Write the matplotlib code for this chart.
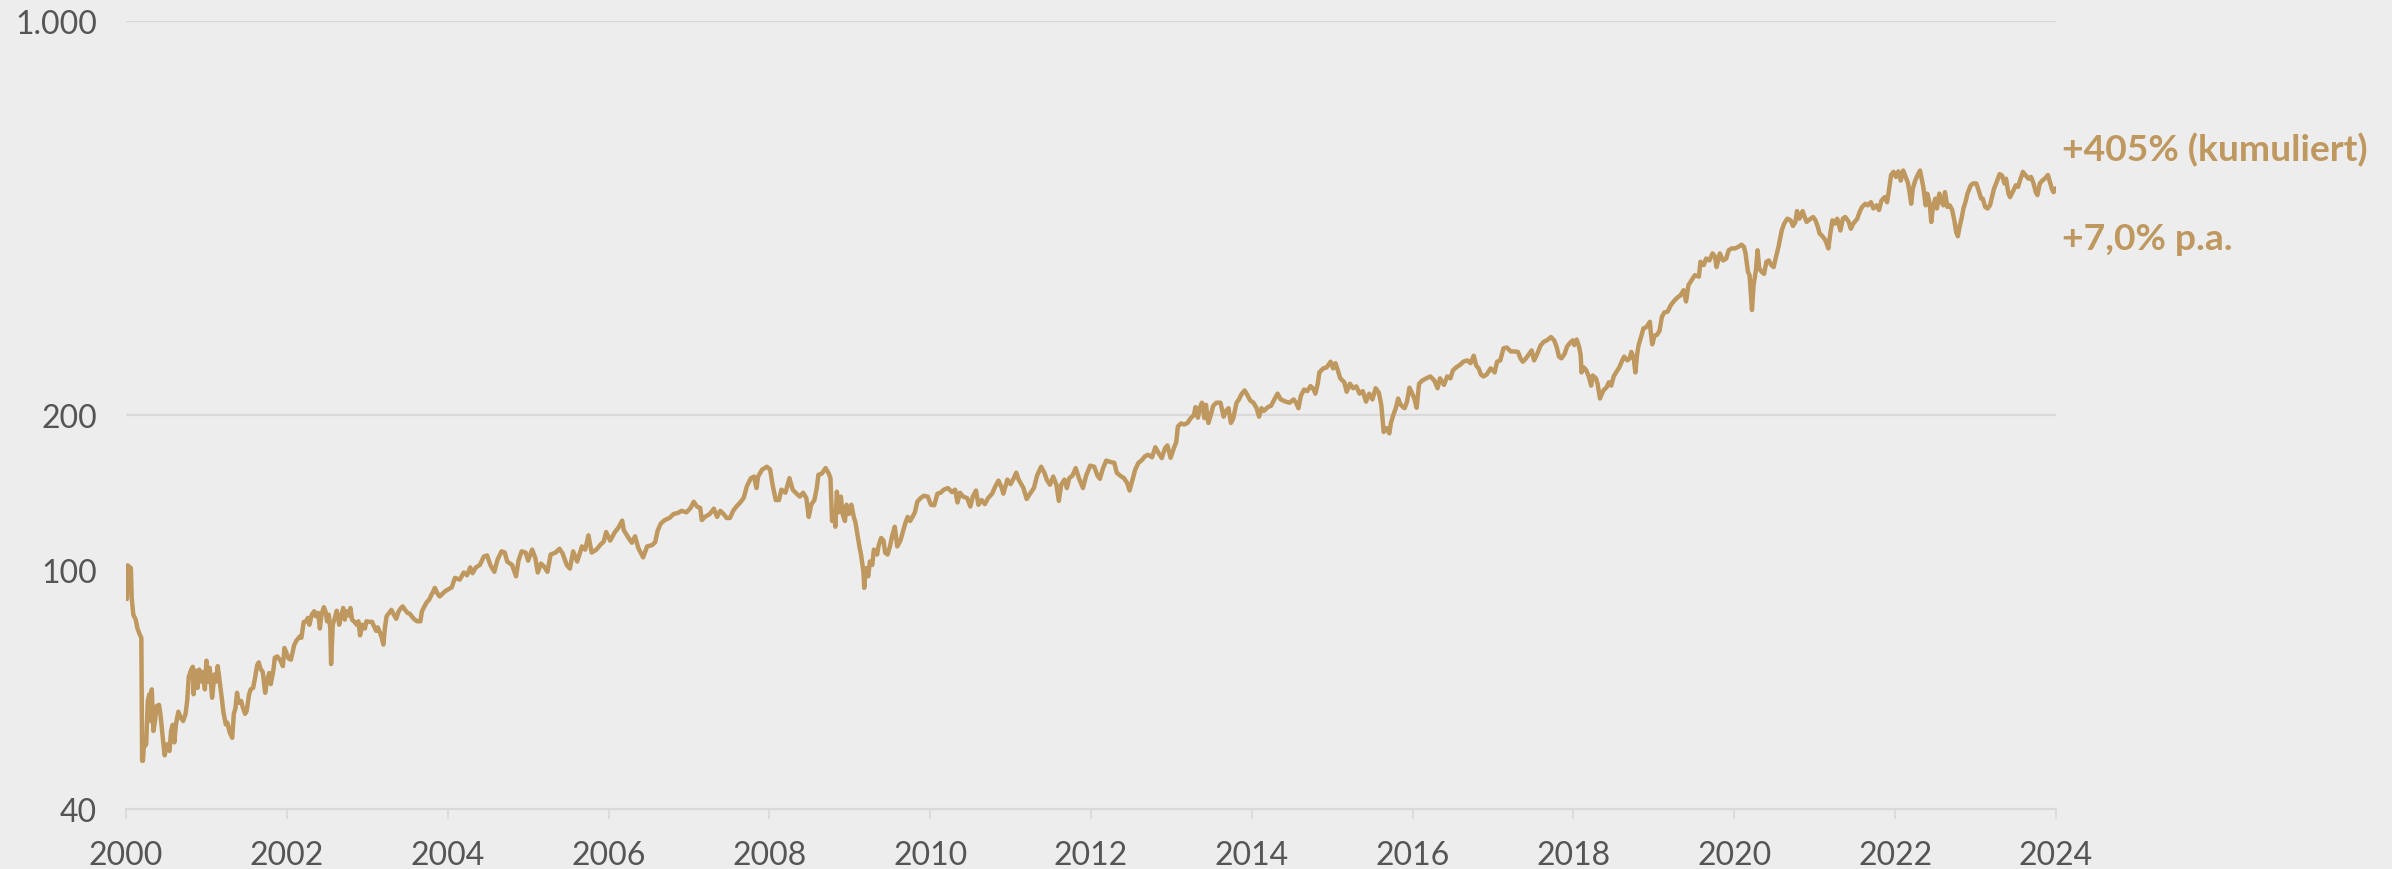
import matplotlib
matplotlib.use("Agg")
import matplotlib.pyplot as plt
import matplotlib.transforms as mtransforms
from matplotlib.ticker import FixedLocator, FixedFormatter, NullLocator

# Index level (start = 100), x in decimal years
years = [
    2000.00, 2000.01, 2000.02, 2000.06, 2000.07, 2000.09, 2000.12, 2000.14, 2000.17, 2000.19,
    2000.20, 2000.21, 2000.22, 2000.25, 2000.27, 2000.29, 2000.31, 2000.32, 2000.34, 2000.36,
    2000.38, 2000.41, 2000.43, 2000.46, 2000.48, 2000.51, 2000.54, 2000.56, 2000.58, 2000.60,
    2000.62, 2000.65, 2000.68, 2000.71, 2000.74, 2000.76, 2000.78, 2000.81, 2000.83, 2000.84,
    2000.86, 2000.89, 2000.91, 2000.94, 2000.96, 2000.98, 2001.00, 2001.02, 2001.04, 2001.07,
    2001.10, 2001.12, 2001.14, 2001.17, 2001.19, 2001.21, 2001.24, 2001.26, 2001.29, 2001.32,
    2001.34, 2001.36, 2001.38, 2001.40, 2001.43, 2001.45, 2001.48, 2001.50, 2001.53, 2001.55,
    2001.58, 2001.60, 2001.63, 2001.65, 2001.67, 2001.70, 2001.73, 2001.75, 2001.78, 2001.80,
    2001.83, 2001.85, 2001.88, 2001.92, 2001.95, 2001.97, 2001.99, 2002.02, 2002.05, 2002.07,
    2002.09, 2002.12, 2002.16, 2002.18, 2002.21, 2002.24, 2002.26, 2002.28, 2002.31, 2002.34,
    2002.36, 2002.39, 2002.41, 2002.43, 2002.46, 2002.48, 2002.50, 2002.52, 2002.54, 2002.55,
    2002.57, 2002.59, 2002.62, 2002.64, 2002.65, 2002.68, 2002.70, 2002.72, 2002.74, 2002.77,
    2002.79, 2002.81, 2002.84, 2002.87, 2002.89, 2002.91, 2002.94, 2002.97, 2002.99, 2003.03,
    2003.06, 2003.08, 2003.11, 2003.13, 2003.16, 2003.18, 2003.20, 2003.22, 2003.24, 2003.28,
    2003.30, 2003.33, 2003.36, 2003.39, 2003.42, 2003.44, 2003.47, 2003.50, 2003.53, 2003.56,
    2003.59, 2003.62, 2003.66, 2003.68, 2003.71, 2003.74, 2003.77, 2003.80, 2003.82, 2003.84,
    2003.87, 2003.90, 2003.97, 2004.05, 2004.09, 2004.15, 2004.20, 2004.24, 2004.28, 2004.31,
    2004.35, 2004.40, 2004.45, 2004.49, 2004.53, 2004.58, 2004.62, 2004.67, 2004.71, 2004.74,
    2004.80, 2004.85, 2004.88, 2004.92, 2004.97, 2005.00, 2005.05, 2005.09, 2005.12, 2005.16,
    2005.20, 2005.24, 2005.28, 2005.34, 2005.39, 2005.43, 2005.48, 2005.52, 2005.56, 2005.61,
    2005.67, 2005.71, 2005.75, 2005.79, 2005.85, 2005.90, 2005.94, 2005.97, 2006.02, 2006.08,
    2006.12, 2006.17, 2006.19, 2006.25, 2006.29, 2006.33, 2006.37, 2006.43, 2006.48, 2006.54,
    2006.58, 2006.61, 2006.65, 2006.70, 2006.76, 2006.81, 2006.86, 2006.91, 2006.97, 2007.02,
    2007.06, 2007.10, 2007.14, 2007.16, 2007.20, 2007.26, 2007.31, 2007.35, 2007.39, 2007.43,
    2007.47, 2007.51, 2007.55, 2007.59, 2007.63, 2007.68, 2007.72, 2007.77, 2007.81, 2007.84,
    2007.86, 2007.91, 2007.97, 2008.01, 2008.04, 2008.08, 2008.12, 2008.15, 2008.20, 2008.25,
    2008.29, 2008.34, 2008.38, 2008.42, 2008.46, 2008.49, 2008.52, 2008.56, 2008.59, 2008.61,
    2008.65, 2008.70, 2008.74, 2008.76, 2008.78, 2008.81, 2008.82, 2008.84, 2008.86, 2008.89,
    2008.91, 2008.94, 2008.96, 2008.99, 2009.02, 2009.05, 2009.07, 2009.10, 2009.12, 2009.14,
    2009.17, 2009.18, 2009.20, 2009.23, 2009.25, 2009.28, 2009.30, 2009.34, 2009.36, 2009.39,
    2009.42, 2009.44, 2009.47, 2009.50, 2009.53, 2009.56, 2009.59, 2009.63, 2009.66, 2009.69,
    2009.72, 2009.75, 2009.78, 2009.81, 2009.84, 2009.88, 2009.92, 2009.97, 2010.01, 2010.05,
    2010.09, 2010.13, 2010.17, 2010.22, 2010.27, 2010.31, 2010.34, 2010.37, 2010.41, 2010.46,
    2010.50, 2010.53, 2010.57, 2010.60, 2010.64, 2010.68, 2010.72, 2010.77, 2010.81, 2010.85,
    2010.89, 2010.91, 2010.96, 2011.00, 2011.04, 2011.07, 2011.10, 2011.16, 2011.20, 2011.25,
    2011.29, 2011.33, 2011.38, 2011.42, 2011.45, 2011.49, 2011.53, 2011.57, 2011.60, 2011.63,
    2011.67, 2011.70, 2011.73, 2011.77, 2011.81, 2011.85, 2011.90, 2011.94, 2011.99, 2012.04,
    2012.08, 2012.11, 2012.15, 2012.19, 2012.24, 2012.29, 2012.32, 2012.36, 2012.41, 2012.45,
    2012.48, 2012.51, 2012.55, 2012.59, 2012.63, 2012.67, 2012.71, 2012.76, 2012.80, 2012.84,
    2012.88, 2012.92, 2012.95, 2012.99, 2013.03, 2013.06, 2013.08, 2013.12, 2013.16, 2013.20,
    2013.24, 2013.28, 2013.30, 2013.33, 2013.35, 2013.38, 2013.41, 2013.43, 2013.46, 2013.49,
    2013.52, 2013.56, 2013.61, 2013.65, 2013.68, 2013.71, 2013.74, 2013.77, 2013.81, 2013.84,
    2013.87, 2013.91, 2013.94, 2013.98, 2014.02, 2014.06, 2014.09, 2014.12, 2014.15, 2014.20,
    2014.24, 2014.28, 2014.32, 2014.36, 2014.42, 2014.47, 2014.52, 2014.55, 2014.58, 2014.61,
    2014.65, 2014.69, 2014.73, 2014.77, 2014.79, 2014.82, 2014.84, 2014.89, 2014.93, 2014.98,
    2015.01, 2015.04, 2015.07, 2015.10, 2015.15, 2015.18, 2015.22, 2015.26, 2015.30, 2015.34,
    2015.38, 2015.42, 2015.46, 2015.50, 2015.54, 2015.58, 2015.61, 2015.64, 2015.68, 2015.71,
    2015.73, 2015.76, 2015.79, 2015.82, 2015.85, 2015.90, 2015.93, 2015.96, 2015.99, 2016.02,
    2016.05, 2016.08, 2016.12, 2016.17, 2016.22, 2016.27, 2016.31, 2016.34, 2016.39, 2016.43,
    2016.47, 2016.50, 2016.54, 2016.59, 2016.63, 2016.68, 2016.72, 2016.76, 2016.79, 2016.82,
    2016.85, 2016.88, 2016.92, 2016.97, 2017.02, 2017.05, 2017.09, 2017.13, 2017.17, 2017.22,
    2017.26, 2017.31, 2017.34, 2017.37, 2017.41, 2017.45, 2017.48, 2017.51, 2017.55, 2017.59,
    2017.63, 2017.67, 2017.72, 2017.76, 2017.79, 2017.82, 2017.85, 2017.89, 2017.92, 2017.95,
    2017.99, 2018.01, 2018.04, 2018.07, 2018.09, 2018.10, 2018.13, 2018.16, 2018.19, 2018.22,
    2018.24, 2018.28, 2018.30, 2018.33, 2018.35, 2018.38, 2018.41, 2018.44, 2018.47, 2018.50,
    2018.53, 2018.57, 2018.60, 2018.63, 2018.67, 2018.70, 2018.72, 2018.75, 2018.77, 2018.79,
    2018.81, 2018.84, 2018.87, 2018.91, 2018.95, 2018.96, 2018.98, 2019.01, 2019.04, 2019.07,
    2019.10, 2019.13, 2019.17, 2019.21, 2019.25, 2019.29, 2019.33, 2019.37, 2019.40, 2019.43,
    2019.47, 2019.51, 2019.56, 2019.58, 2019.62, 2019.65, 2019.69, 2019.73, 2019.76, 2019.78,
    2019.82, 2019.86, 2019.90, 2019.93, 2019.97, 2020.01, 2020.05, 2020.09, 2020.12, 2020.14,
    2020.17, 2020.19, 2020.21, 2020.22, 2020.24, 2020.27, 2020.29, 2020.31, 2020.34, 2020.37,
    2020.40, 2020.43, 2020.46, 2020.49, 2020.52, 2020.55, 2020.59, 2020.62, 2020.66, 2020.70,
    2020.73, 2020.76, 2020.78, 2020.81, 2020.85, 2020.87, 2020.90, 2020.95, 2020.98, 2021.01,
    2021.04, 2021.06, 2021.09, 2021.12, 2021.14, 2021.17, 2021.19, 2021.22, 2021.25, 2021.28,
    2021.32, 2021.35, 2021.38, 2021.42, 2021.45, 2021.48, 2021.53, 2021.56, 2021.59, 2021.63,
    2021.66, 2021.70, 2021.73, 2021.77, 2021.80, 2021.83, 2021.87, 2021.90, 2021.92, 2021.95,
    2021.98, 2022.01, 2022.04, 2022.07, 2022.10, 2022.13, 2022.16, 2022.18, 2022.20, 2022.22,
    2022.25, 2022.28, 2022.31, 2022.33, 2022.35, 2022.38, 2022.40, 2022.43, 2022.45, 2022.47,
    2022.50, 2022.52, 2022.55, 2022.57, 2022.60, 2022.62, 2022.65, 2022.68, 2022.71, 2022.74,
    2022.76, 2022.78, 2022.80, 2022.83, 2022.85, 2022.88, 2022.90, 2022.94, 2022.97, 2023.01,
    2023.04, 2023.07, 2023.09, 2023.12, 2023.15, 2023.18, 2023.21, 2023.23, 2023.27, 2023.30,
    2023.33, 2023.36, 2023.38, 2023.41, 2023.43, 2023.47, 2023.50, 2023.53, 2023.56, 2023.59,
    2023.62, 2023.66, 2023.69, 2023.72, 2023.75, 2023.77, 2023.80, 2023.83, 2023.86, 2023.90,
    2023.92, 2023.95, 2023.97, 2024.00,
]

index_values = [
    100.0, 94.3, 108.2, 107.0, 94.7, 88.5, 86.7, 83.8, 81.6, 80.5,
    48.7, 48.7, 51.4, 52.1, 62.2, 63.9, 57.3, 65.2, 55.0, 57.3,
    60.9, 61.2, 58.5, 52.9, 49.8, 52.1, 50.7, 55.0, 56.4, 52.5,
    56.5, 59.5, 58.1, 57.3, 59.0, 62.2, 68.6, 70.7, 71.5, 63.9,
    70.4, 65.6, 70.7, 67.3, 70.0, 65.2, 73.3, 67.3, 71.2, 63.0,
    69.3, 67.3, 71.7, 66.3, 63.0, 59.5, 56.5, 56.9, 54.6, 53.5,
    59.0, 60.3, 64.3, 61.7, 62.2, 60.7, 59.0, 59.7, 63.9, 65.2,
    65.6, 67.8, 71.9, 72.8, 71.0, 70.0, 64.3, 67.3, 69.7, 66.6,
    70.2, 74.2, 74.6, 73.3, 71.7, 77.2, 76.0, 74.0, 73.6, 75.7,
    78.1, 79.6, 80.9, 80.5, 85.9, 86.1, 87.3, 84.9, 88.5, 89.7,
    87.9, 89.1, 83.6, 88.5, 91.2, 89.7, 86.1, 88.5, 83.8, 72.3,
    84.9, 86.7, 89.9, 87.3, 84.9, 88.5, 90.9, 86.7, 89.7, 88.2,
    90.9, 86.7, 85.9, 84.9, 86.1, 81.3, 84.9, 83.6, 86.1, 85.9,
    85.9, 84.6, 82.8, 84.0, 82.1, 80.5, 78.3, 84.0, 87.9, 89.4,
    90.2, 88.5, 87.0, 89.7, 90.9, 91.5, 90.2, 89.1, 88.8, 87.6,
    86.7, 86.1, 86.1, 89.7, 91.5, 93.1, 94.1, 96.1, 97.2, 98.7,
    96.6, 95.3, 97.4, 98.9, 102.8, 102.1, 105.1, 103.9, 107.3, 104.8,
    107.3, 108.4, 112.2, 112.7, 108.4, 105.4, 110.8, 114.6, 114.0, 109.9,
    108.4, 103.5, 110.3, 114.6, 114.0, 110.3, 115.4, 111.5, 105.1, 109.0,
    107.6, 105.4, 113.1, 114.0, 115.8, 113.5, 108.4, 106.8, 114.6, 109.9,
    116.9, 115.4, 122.3, 114.0, 115.4, 117.8, 119.2, 124.0, 119.7, 124.0,
    126.0, 129.9, 124.9, 121.0, 118.7, 121.8, 116.2, 111.8, 116.9, 117.5,
    118.9, 124.6, 128.4, 130.2, 131.4, 133.5, 134.0, 135.2, 134.4, 136.8,
    140.3, 137.6, 136.8, 130.2, 131.9, 133.5, 136.4, 131.9, 135.2, 133.5,
    131.3, 131.3, 135.2, 137.6, 139.5, 142.4, 149.4, 154.5, 155.5, 148.4,
    155.5, 160.0, 161.9, 160.0, 150.4, 141.3, 141.3, 147.4, 145.6, 154.5,
    147.4, 145.0, 143.3, 145.6, 142.4, 131.9, 138.6, 141.3, 148.4, 156.7,
    157.3, 161.0, 157.3, 154.5, 129.7, 134.4, 126.7, 146.2, 134.4, 143.3,
    133.5, 129.7, 138.6, 133.5, 138.6, 131.9, 129.1, 121.8, 116.9, 113.1,
    105.4, 98.7, 107.0, 103.5, 109.9, 108.4, 115.4, 113.1, 117.5, 121.0,
    119.7, 114.0, 113.1, 116.9, 122.5, 126.7, 116.9, 119.7, 124.0, 128.4,
    131.9, 129.7, 131.9, 134.4, 140.3, 142.4, 143.8, 143.3, 138.6, 138.3,
    145.0, 145.6, 147.4, 148.4, 146.0, 147.4, 139.9, 145.6, 143.3, 142.4,
    137.6, 143.3, 146.9, 138.6, 141.3, 139.0, 142.4, 145.0, 149.4, 153.0,
    148.4, 145.0, 153.6, 150.8, 154.5, 158.0, 153.6, 148.4, 141.9, 145.6,
    148.4, 156.2, 161.9, 158.0, 153.6, 150.4, 155.5, 150.4, 140.8, 150.4,
    153.6, 148.4, 154.5, 156.2, 161.0, 154.5, 148.4, 156.2, 162.6, 161.9,
    156.2, 154.1, 161.0, 166.0, 165.1, 164.5, 158.0, 156.2, 154.5, 151.5,
    146.9, 152.4, 160.0, 164.5, 166.2, 168.9, 170.0, 168.3, 175.3, 171.3,
    167.7, 174.6, 176.6, 167.9, 174.6, 178.9, 190.7, 193.2, 192.4, 193.6,
    197.4, 200.0, 206.5, 197.8, 205.6, 210.3, 197.4, 208.5, 193.6, 200.0,
    207.7, 210.3, 210.3, 198.6, 203.4, 205.6, 193.6, 197.4, 210.3, 213.1,
    217.6, 221.1, 217.6, 212.2, 210.3, 205.6, 198.6, 205.6, 203.4, 206.5,
    207.7, 213.1, 218.2, 213.1, 211.2, 210.3, 213.1, 210.3, 205.6, 216.3,
    221.9, 220.5, 225.1, 221.9, 218.2, 227.2, 238.0, 242.0, 242.9, 248.6,
    242.0, 247.1, 239.9, 232.3, 228.6, 219.9, 227.2, 223.1, 224.8, 218.2,
    220.5, 211.2, 218.2, 213.1, 223.1, 219.0, 208.5, 186.6, 189.5, 185.5,
    193.6, 200.0, 205.6, 213.9, 208.5, 205.6, 211.2, 223.6, 219.0, 214.1,
    206.0, 227.2, 230.2, 232.3, 234.1, 230.2, 223.1, 232.3, 226.2, 234.1,
    232.3, 239.9, 242.9, 245.5, 248.6, 250.0, 247.1, 254.8, 244.8, 242.0,
    235.9, 234.1, 235.9, 242.0, 238.0, 248.6, 250.0, 262.6, 263.5, 259.3,
    259.3, 258.8, 252.1, 248.6, 252.1, 256.8, 260.3, 250.0, 256.8, 265.5,
    269.7, 271.3, 275.0, 271.3, 264.3, 253.8, 252.1, 256.8, 264.3, 267.8,
    271.3, 266.1, 272.2, 264.3, 255.2, 238.0, 242.9, 239.9, 234.1, 225.5,
    235.0, 232.3, 227.2, 213.9, 217.6, 221.9, 223.6, 228.6, 225.5, 234.1,
    238.0, 242.9, 248.6, 253.8, 250.0, 252.1, 258.8, 252.1, 238.0, 255.2,
    266.1, 275.0, 284.9, 286.6, 292.7, 282.1, 266.9, 276.7, 277.6, 282.1,
    298.7, 304.1, 305.0, 313.2, 318.5, 323.0, 326.0, 333.0, 318.0, 340.0,
    347.0, 354.0, 352.0, 374.0, 369.0, 379.0, 376.0, 387.0, 382.0, 366.0,
    387.0, 376.0, 379.0, 392.0, 395.0, 395.0, 397.5, 401.0, 397.5, 387.0,
    359.0, 354.0, 322.0, 307.0, 340.0, 362.0, 392.0, 364.0, 359.0, 356.0,
    374.0, 376.0, 369.0, 366.0, 382.0, 397.5, 425.0, 437.0, 446.0, 443.0,
    433.0, 440.0, 460.0, 446.0, 460.0, 451.0, 440.0, 446.0, 449.0, 443.0,
    431.0, 420.0, 416.0, 411.0, 406.0, 395.0, 416.0, 443.0, 437.0, 446.0,
    425.0, 446.0, 449.0, 441.0, 428.0, 437.0, 446.0, 459.0, 468.0, 474.0,
    471.0, 477.0, 465.0, 471.0, 462.0, 480.0, 487.0, 477.0, 497.0, 533.0,
    540.0, 529.0, 541.0, 521.0, 543.0, 529.0, 516.0, 497.0, 474.0, 504.0,
    521.0, 533.0, 543.0, 525.0, 508.0, 471.0, 494.0, 474.0, 440.0, 468.0,
    484.0, 465.0, 494.0, 480.0, 471.0, 497.0, 468.0, 471.0, 462.0, 440.0,
    422.0, 415.0, 430.0, 449.0, 465.0, 480.0, 494.0, 511.0, 515.0, 515.0,
    500.0, 484.0, 484.0, 468.0, 465.0, 471.0, 491.0, 504.0, 521.0, 535.0,
    532.0, 515.0, 525.0, 494.0, 487.0, 500.0, 511.0, 508.0, 525.0, 540.0,
    533.0, 525.0, 529.0, 516.0, 497.0, 491.0, 515.0, 521.0, 525.0, 533.0,
    521.0, 504.0, 497.0, 505.0,
]

x_ticks = list(range(2000, 2025, 2))
y_ticks = [40, 100, 200, 1000]
y_tick_labels = ["40", "100", "200", "1.000"]
grid_levels = [200, 1000]
label_total = "+405% (kumuliert)"
label_pa = "+7,0% p.a."

BG = "#EDEDED"
GOLD = "#BE985E"
GRID = "#D9D9D9"
TEXT = "#555555"

plt.rcParams["font.family"] = ["Lato", "DejaVu Sans"]

fig = plt.figure(figsize=(23.92, 8.70), dpi=100, facecolor=BG)
ax = fig.add_axes([0.0527, 0.069, 0.8068, 0.9057])
ax.set_facecolor(BG)

ax.set_yscale("log")
ax.set_ylim(40, 1000)
ax.set_xlim(2000, 2024)

for lvl in grid_levels:
    ax.axhline(lvl, color=GRID, linewidth=1.6, zorder=1)

ax.plot(years, index_values, color=GOLD, linewidth=3.2, zorder=3,
        solid_joinstyle="round", solid_capstyle="round")

ax.yaxis.set_major_locator(FixedLocator(y_ticks))
ax.yaxis.set_major_formatter(FixedFormatter(y_tick_labels))
ax.yaxis.set_minor_locator(NullLocator())
ax.set_xticks(x_ticks)
ax.set_xticklabels([str(x) for x in x_ticks])

ax.tick_params(axis="y", length=0, pad=21, labelsize=23, labelcolor=TEXT)
ax.tick_params(axis="x", length=7.5, width=1.2, color=GRID, pad=15,
               labelsize=23, labelcolor=TEXT)

# the "100" label sits a little above its level in the original
lift = mtransforms.ScaledTranslation(0, 0.15, fig.dpi_scale_trans)
for tick, val in zip(ax.yaxis.get_major_ticks(), y_ticks):
    if val == 100:
        tick.label1.set_transform(tick.label1.get_transform() + lift)

for side in ["top", "right", "left"]:
    ax.spines[side].set_visible(False)
ax.spines["bottom"].set_color(GRID)
ax.spines["bottom"].set_linewidth(1.6)

# end-of-line annotations
fig.text(2062 / 2392, 1 - 150 / 870, label_total, color=GOLD, fontsize=26.8,
         fontweight="bold", ha="left", va="center")
fig.text(2062 / 2392, 1 - 240 / 870, label_pa, color=GOLD, fontsize=26.8,
         fontweight="bold", ha="left", va="center")

fig.savefig("out.png", dpi=100, facecolor=BG)
